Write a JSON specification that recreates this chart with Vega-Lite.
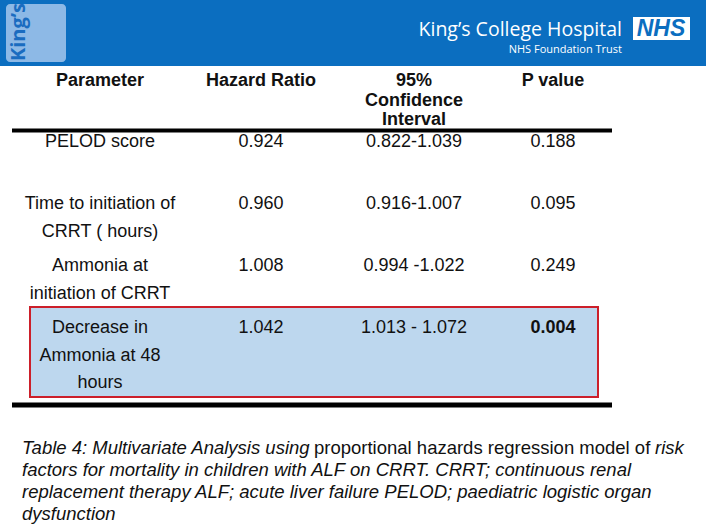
{
  "$schema": "https://vega.github.io/schema/vega-lite/v6.json",
  "padding": 0,
  "spacing": 0,
  "background": "white",
  "config": {
    "view": {"stroke": null},
    "axis": {"disable": true},
    "font": "Liberation Sans"
  },
  "datasets": {
    "table": [
      {"row": 1, "Parameter": "PELOD score", "Hazard Ratio": "0.924", "95% Confidence Interval": "0.822-1.039", "P value": "0.188"},
      {"row": 2, "Parameter": "Time to initiation of\nCRRT ( hours)", "Hazard Ratio": "0.960", "95% Confidence Interval": "0.916-1.007", "P value": "0.095"},
      {"row": 3, "Parameter": "Ammonia at\ninitiation of CRRT", "Hazard Ratio": "1.008", "95% Confidence Interval": "0.994 -1.022", "P value": "0.249"},
      {"row": 4, "Parameter": "Decrease in\nAmmonia at 48\nhours", "Hazard Ratio": "1.042", "95% Confidence Interval": "1.013 - 1.072", "P value": "0.004"}
    ],
    "header": [
      {"column": "Parameter", "label": "Parameter"},
      {"column": "Hazard Ratio", "label": "Hazard Ratio"},
      {"column": "95% Confidence Interval", "label": "95%\nConfidence\nInterval"},
      {"column": "P value", "label": "P value"}
    ],
    "banner": [
      {"item": "logo", "text": "King’s"},
      {"item": "hospital", "text": "King’s College Hospital"},
      {"item": "trust", "text": "NHS Foundation Trust"},
      {"item": "badge", "text": "NHS"}
    ],
    "caption": [
      {"segment": "lead", "text": "Table 4: Multivariate Analysis using\nfactors for mortality in children with ALF on CRRT. CRRT; continuous renal\nreplacement therapy ALF; acute liver failure PELOD; paediatric  logistic organ\ndysfunction"},
      {"segment": "plain", "text": "proportional hazards regression model of"},
      {"segment": "tail", "text": "risk"}
    ]
  },
  "vconcat": [
    {
      "width": 706,
      "height": 66,
      "view": {"fill": "#0B6EC0", "stroke": null},
      "data": {"name": "banner"},
      "layer": [
        {
          "transform": [{"filter": "datum.item === 'logo'"}],
          "mark": {"type": "rect", "fill": "#8DB9E6", "cornerRadius": 4},
          "encoding": {"x": {"value": 6}, "x2": {"value": 66}, "y": {"value": 4}, "y2": {"value": 62}}
        },
        {
          "transform": [{"filter": "datum.item === 'logo'"}],
          "mark": {"type": "text", "angle": 270, "font": "Open Sans", "fontWeight": "bold", "fontSize": 20, "fill": "#1A6CC0", "align": "center", "baseline": "middle"},
          "encoding": {"x": {"value": 19}, "y": {"value": 32}, "text": {"field": "text"}}
        },
        {
          "transform": [{"filter": "datum.item === 'hospital'"}],
          "mark": {"type": "text", "font": "Open Sans", "fontSize": 19.5, "fill": "white", "align": "right", "baseline": "middle"},
          "encoding": {"x": {"value": 622}, "y": {"value": 30}, "text": {"field": "text"}}
        },
        {
          "transform": [{"filter": "datum.item === 'trust'"}],
          "mark": {"type": "text", "font": "Open Sans", "fontSize": 11, "fill": "white", "align": "right", "baseline": "middle"},
          "encoding": {"x": {"value": 622}, "y": {"value": 50}, "text": {"field": "text"}}
        },
        {
          "transform": [{"filter": "datum.item === 'badge'"}],
          "mark": {"type": "rect", "fill": "white"},
          "encoding": {"x": {"value": 633}, "x2": {"value": 690}, "y": {"value": 17}, "y2": {"value": 40}}
        },
        {
          "transform": [{"filter": "datum.item === 'badge'"}],
          "mark": {"type": "text", "font": "Liberation Sans", "fontWeight": "bold", "fontStyle": "italic", "fontSize": 23, "fill": "#0B6EC0", "align": "center", "baseline": "middle"},
          "encoding": {"x": {"value": 661}, "y": {"value": 29}, "text": {"field": "text"}}
        }
      ]
    },
    {
      "width": 706,
      "height": 368,
      "view": {"fill": "white", "stroke": null},
      "layer": [
        {
          "data": {"name": "table"},
          "transform": [{"filter": "toNumber(datum['P value']) < 0.05"}],
          "mark": {"type": "rect", "fill": "#BDD7EE", "stroke": "#CC1F2A", "strokeWidth": 2, "xOffset": -70, "x2Offset": 45, "yOffset": -12, "y2Offset": 78},
          "encoding": {
            "x": {"datum": "Parameter", "type": "nominal", "axis": null, "scale": {"type": "point", "domain": ["Parameter", "Hazard Ratio", "95% Confidence Interval", "P value"], "range": [100, 553], "padding": 0}},
            "x2": {"datum": "P value"},
            "y": {"field": "row", "type": "quantitative", "axis": null, "scale": {"domain": [0, 5], "range": [5, 315], "nice": false, "zero": false}},
            "y2": {"field": "row"}
          }
        },
        {
          "data": {"name": "table"},
          "transform": [{"filter": "datum.row === 1"}],
          "mark": {"type": "rule", "color": "black", "strokeWidth": 4, "xOffset": -88, "x2Offset": 59, "yOffset": -2.5},
          "encoding": {
            "x": {"datum": "Parameter", "type": "nominal"},
            "x2": {"datum": "P value"},
            "y": {"field": "row", "type": "quantitative"}
          }
        },
        {
          "data": {"name": "table"},
          "transform": [{"filter": "datum.row === 4"}],
          "mark": {"type": "rule", "color": "black", "strokeWidth": 5, "xOffset": -88, "x2Offset": 59, "yOffset": 86},
          "encoding": {
            "x": {"datum": "Parameter", "type": "nominal"},
            "x2": {"datum": "P value"},
            "y": {"field": "row", "type": "quantitative"}
          }
        },
        {
          "data": {"name": "header"},
          "mark": {"type": "text", "fontWeight": "bold", "fontSize": 18, "lineHeight": 19.5, "lineBreak": "\n", "baseline": "top", "align": "center", "yOffset": 1, "fill": "#111111",
            "dx": {"expr": "datum.column === 'Hazard Ratio' ? 10 : datum.column === '95% Confidence Interval' ? 12 : 0"}},
          "encoding": {
            "x": {"field": "column", "type": "nominal"},
            "y": {"datum": 0, "type": "quantitative"},
            "text": {"field": "label"}
          }
        },
        {
          "data": {"name": "table"},
          "transform": [{"fold": ["Parameter", "Hazard Ratio", "95% Confidence Interval", "P value"], "as": ["column", "value"]}],
          "mark": {"type": "text", "fontSize": 18, "lineHeight": 27.5, "lineBreak": "\n", "baseline": "top", "align": "center", "fill": "#111111",
            "dx": {"expr": "datum.column === 'Hazard Ratio' ? 10 : datum.column === '95% Confidence Interval' ? 12 : 0"},
            "fontWeight": {"expr": "datum.column === 'P value' && toNumber(datum.value) < 0.05 ? 'bold' : 'normal'"}},
          "encoding": {
            "x": {"field": "column", "type": "nominal"},
            "y": {"field": "row", "type": "quantitative"},
            "text": {"field": "value"}
          }
        }
      ]
    },
    {
      "width": 706,
      "height": 95,
      "view": {"fill": "white", "stroke": null},
      "data": {"name": "caption"},
      "layer": [
        {
          "transform": [{"filter": "datum.segment === 'lead'"}],
          "mark": {"type": "text", "fontSize": 18.5, "fontStyle": "italic", "lineHeight": 22, "lineBreak": "\n", "baseline": "top", "align": "left", "fill": "#111111"},
          "encoding": {"x": {"value": 22}, "y": {"value": 5}, "text": {"field": "text"}}
        },
        {
          "transform": [{"filter": "datum.segment === 'plain'"}],
          "mark": {"type": "text", "fontSize": 18.5, "baseline": "top", "align": "left", "fill": "#111111", "dx": 292},
          "encoding": {"x": {"value": 22}, "y": {"value": 5}, "text": {"field": "text"}}
        },
        {
          "transform": [{"filter": "datum.segment === 'tail'"}],
          "mark": {"type": "text", "fontSize": 18.5, "fontStyle": "italic", "baseline": "top", "align": "left", "fill": "#111111", "dx": 633},
          "encoding": {"x": {"value": 22}, "y": {"value": 5}, "text": {"field": "text"}}
        }
      ]
    }
  ]
}
